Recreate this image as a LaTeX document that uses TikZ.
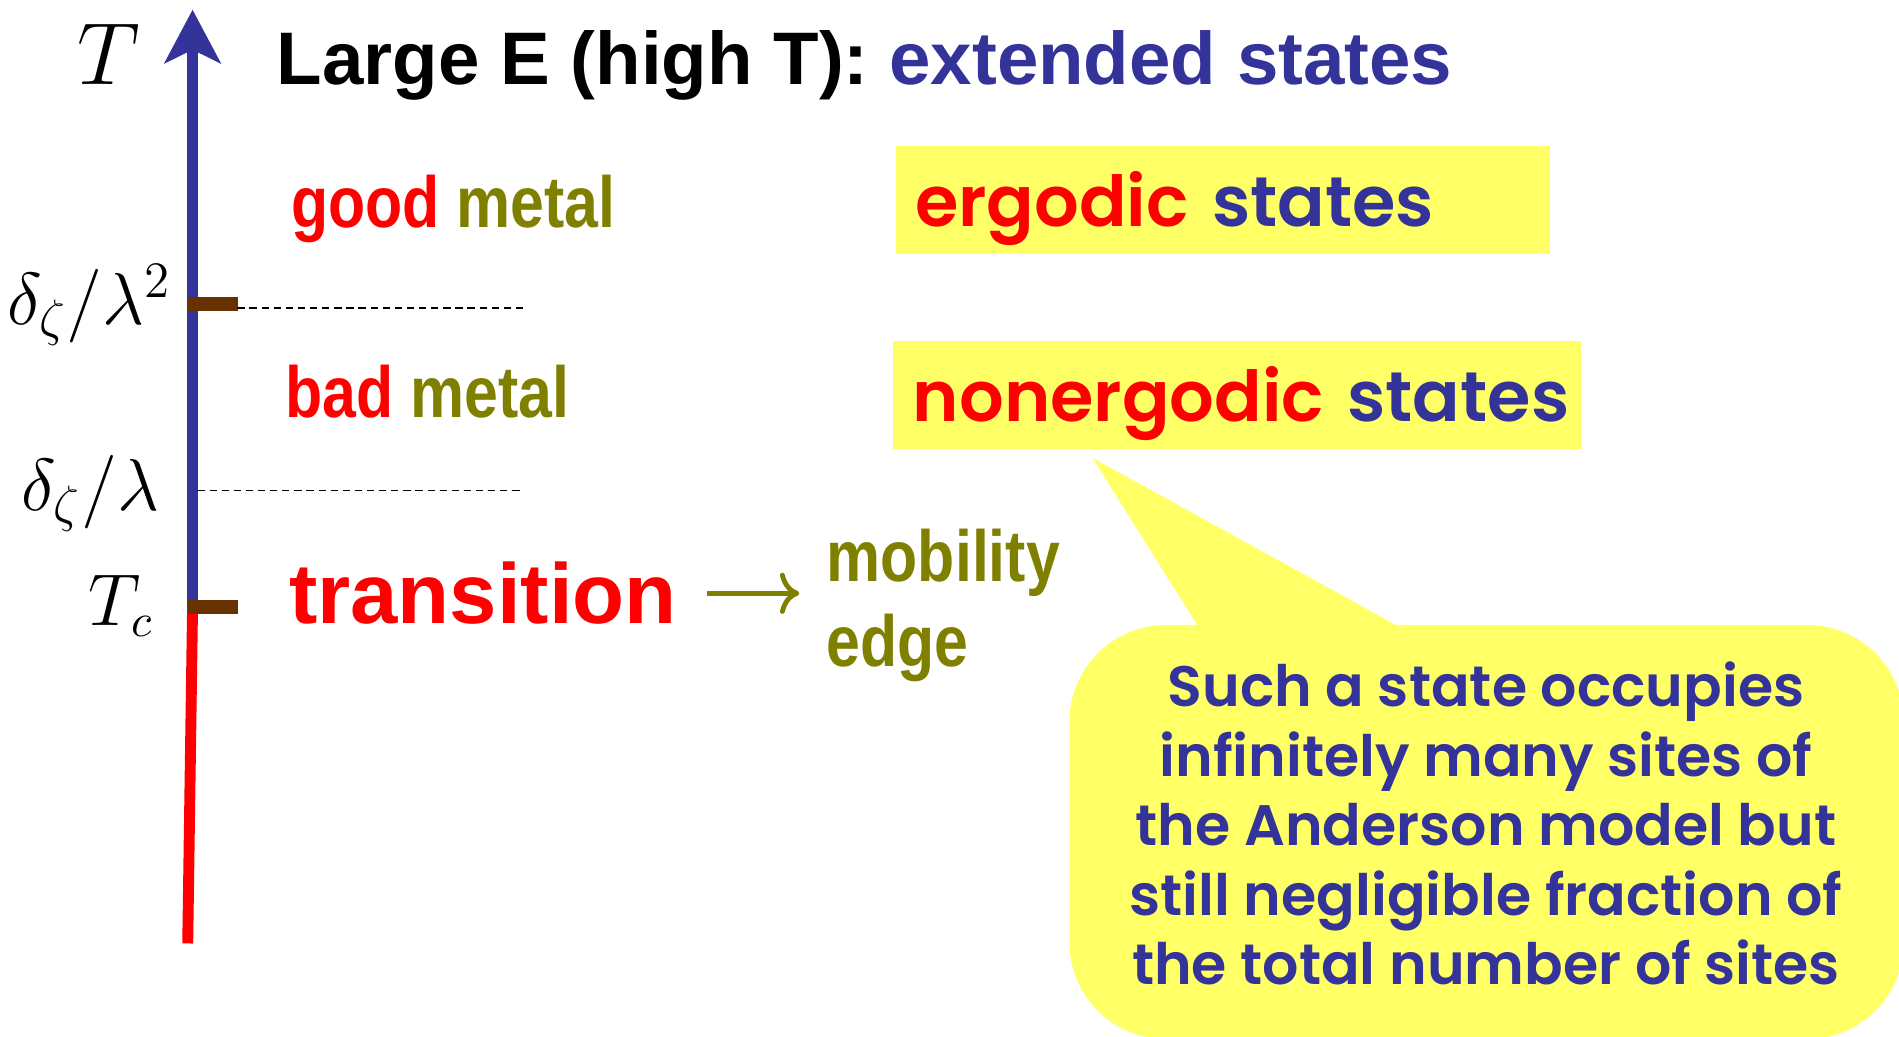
\documentclass[tikz,border=0pt]{standalone}
\usepackage{amsmath,amssymb}
\usepackage[no-math]{fontspec}
\setmainfont{Liberation Sans}
\newfontfamily\narrowfont[FakeStretch=0.84]{Liberation Sans}
\newfontfamily\comicfont{Poppins}[BoldFont=* SemiBold]
\usetikzlibrary{positioning,arrows.meta}

\definecolor{tblue}{HTML}{333399}
\definecolor{tolive}{HTML}{808000}
\definecolor{tbrown}{HTML}{663300}
\definecolor{tyellow}{HTML}{FFFF66}

\tikzset{
  every node/.style={inner sep=0pt},
  axisline/.style={line width=0.9mm},
  tickmark/.style={fill=tbrown, minimum width=4.1mm, minimum height=1.2mm},
  guide/.style={line width=0.16mm, dash pattern=on 0.6mm off 0.4mm},
  metaltext/.style={font=\narrowfont\bfseries\fontsize{17}{20}\selectfont, text=tolive},
  statebox/.style={fill=tyellow, anchor=north west, inner xsep=1.6mm,
    text height=6.6mm, text depth=2.3mm, align=left, text=tblue,
    font=\comicfont\bfseries\fontsize{16.5}{20}\selectfont},
  callbox/.style={fill=tyellow, rounded corners=8mm, minimum width=68.9mm,
    minimum height=34.2mm},
  notetext/.style={align=center, text=tblue,
    font=\comicfont\bfseries\fontsize{13.4}{16.3}\selectfont}
}

\begin{document}
\begin{tikzpicture}[x=0.1mm, y=-0.1mm]
  \useasboundingbox (0,0) rectangle (1568,856);
  \clip (0,0) rectangle (1568,856);

  % temperature axis
  \coordinate (top) at (159,8);
  \coordinate (tc) at (159,501);
  \coordinate (bot) at (155,779);
  \draw[axisline, tblue, -{Stealth[length=4.4mm, width=4.6mm, inset=1.1mm]}] (tc) -- (top);
  \draw[axisline, red] (tc) -- (bot);
  \node (tick2) [tickmark, anchor=west] at (154.5,251) {};
  \node (tickc) [tickmark, anchor=west] at (154.5,501) {};

  % guide lines
  \coordinate (g2a) at (196,254);
  \coordinate (g2b) at (432,254);
  \coordinate (g1a) at (163,405);
  \coordinate (g1b) at (432,405);
  \draw[guide] (g2a) -- (g2b);
  \draw[guide] (g1a) -- (g1b);

  % axis labels
  \node (lT) at (90,45) {\fontsize{20}{24}\selectfont$T$};
  \node (l2) at (74,252) {\fontsize{17}{20}\selectfont$\delta_\zeta/\lambda^2$};
  \node (l1) at (75,407) {\fontsize{17}{20}\selectfont$\delta_\zeta/\lambda$};
  \node (lTc) at (100,500) {\fontsize{16}{20}\selectfont$T_c$};

  \node (title) [anchor=base west, font=\bfseries\fontsize{17.5}{21}\selectfont]
    at (228,70) {Large E (high T): \textcolor{tblue}{extended states}};

  \node (good) [metaltext, anchor=base west] at (240,188) {\textcolor{red}{good} metal};
  \node (bad) [metaltext, anchor=base west] at (235,345) {\textcolor{red}{bad} metal};
  \node (trans) [anchor=base west, text=red, font=\bfseries\fontsize{20}{24}\selectfont]
    at (238,515) {transition};
  \node (mob) [metaltext, anchor=base west] at (682,480) {mobility};
  \node (edge) [metaltext, anchor=base west] at ([yshift=-7mm]mob.base west) {edge};
  \draw[tolive, line width=0.4mm, -{To[length=1.6mm, width=3.4mm]},
        shorten <=2.4mm, shorten >=2.2mm] (trans.east) -- (trans.east -| mob.west);

  \node (erg) [statebox, text width=50.8mm] at (739,120)
    {\mbox{\textcolor{red}{ergodic} states}};
  \node (nonerg) [statebox, text width=53.6mm] at (737,281)
    {\mbox{\textcolor{red}{nonergodic} states}};

  % callout
  \coordinate (ptip) at (902,378);
  \node (bubble) [callbox] at (1227.5,687) {};
  \fill[tyellow] ([xshift=11.2mm, yshift=-1mm]bubble.north west) -- (ptip)
    -- ([xshift=28.7mm, yshift=-1mm]bubble.north west) -- cycle;
  \node (note) [notetext] at (1227,680)
    {Such a state occupies\\infinitely many sites of\\the Anderson model but\\still negligible fraction of\\the total number of sites};
\end{tikzpicture}
\end{document}
